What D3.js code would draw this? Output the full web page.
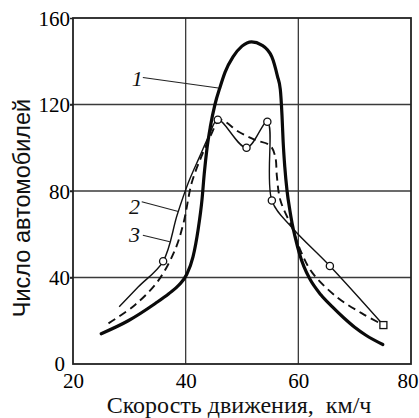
<!DOCTYPE html>
<html>
<head>
<meta charset="utf-8">
<script src="https://cdn.jsdelivr.net/npm/d3@7"></script>
<style>
  html, body { margin: 0; padding: 0; background: #fff; }
  svg { display: block; }
  .tick text { font-family: "Liberation Serif", "Times New Roman", serif; }
</style>
</head>
<body>
<script>
// ---- Data ----
const xTicks = [20, 40, 60, 80];
const yTicks = [0, 40, 80, 120, 160];

// Curve 1: thick smooth solid
const speed1 = [25, 29.8, 34.6, 37, 38.8, 40.2, 41.3, 42.2, 42.9, 43.3, 43.8, 44.4, 45.2, 46.1, 47, 48.4, 50, 51.7, 53.5, 55.3, 56.3, 56.8, 57.1, 57.3, 57.6, 58, 58.5, 58.9, 59.5, 60.2, 61, 62, 64, 66, 68, 70, 72, 75];
const count1 = [14, 20, 28, 32.5, 36.5, 41.5, 49.5, 62, 76, 88, 100, 110, 120, 128, 135, 142, 147, 149, 147.5, 142, 133, 127, 115, 103, 91, 80, 71, 65, 58, 51, 45, 39.5, 32, 26.5, 21.5, 17, 13.3, 9];

// Curve 2: thin solid through observed points
const speed2 = [28.2, 31.6, 36, 38.5, 40.5, 42.5, 44.2, 45.7, 50.8, 54.5, 55.3, 58.9, 65.6, 75.1];
const count2 = [26.5, 35.7, 47.5, 69, 84, 96, 106, 113, 100, 112, 75.6, 63, 45.3, 18];
const markSpeed2 = [36, 45.7, 50.8, 54.5, 55.3, 65.6];
const markCount2 = [47.5, 113, 100, 112, 75.6, 45.3];
const endSpeed = [75.1];
const endCount = [18];

// Curve 3: dashed
const speed3 = [26.3, 31, 35.2, 38.1, 39.6, 41.1, 42.8, 44.5, 46.1, 49.4, 52.3, 55, 55.9, 56.2, 56.8, 58.9, 60.3, 62.4, 66.8, 71.3, 75.1];
const count3 = [18.8, 27.3, 38.8, 52.7, 65, 84, 96, 106, 112.8, 107.4, 103.6, 101, 95.9, 86.6, 75.8, 63, 53, 42.5, 31, 23.4, 18];

// Curve labels with leader lines (data units)
const curveLabels = ["1", "2", "3"];
const labelSpeed = [31.4, 30.9, 30.9];
const labelCount = [132, 73, 60];
const leadFromSpeed = [32.4, 32.2, 32.4];
const leadFromCount = [132.5, 75, 59.5];
const leadToSpeed = [45.8, 38.7, 37.2];
const leadToCount = [127.6, 70.5, 56.5];

const xTitle = "Скорость движения,  км/ч";
const yTitle = "Число автомобилей";

// ---- Layout ----
const W = 419, H = 418;
const L = 73, R = 411, T = 18, B = 364;

const svg = d3.select("body").append("svg").attr("width", W).attr("height", H);

const x = d3.scaleLinear().domain([20, 80]).range([L, R]);
const y = d3.scaleLinear().domain([0, 160]).range([B, T]);

// Grid lines
const grid = svg.append("g");
grid.selectAll("line.vx").data(xTicks.slice(1, -1)).join("line")
  .attr("x1", d => x(d)).attr("x2", d => x(d)).attr("y1", T).attr("y2", B)
  .attr("stroke", "#3a3a3a").attr("stroke-width", 1.3);
grid.selectAll("line.hy").data(yTicks.slice(1, -1)).join("line")
  .attr("x1", L - 3).attr("x2", R).attr("y1", d => y(d)).attr("y2", d => y(d))
  .attr("stroke", "#3a3a3a").attr("stroke-width", 1.3);

// Frame
svg.append("rect").attr("x", L).attr("y", T).attr("width", R - L).attr("height", B - T)
  .attr("fill", "none").attr("stroke", "#222").attr("stroke-width", 1.8);

// Axes (labels)
const yAxis = d3.axisLeft(y).tickValues(yTicks).tickSize(3).tickPadding(0).tickFormat(d3.format("d"));
const gy = svg.append("g").attr("transform", `translate(${L},0)`).call(yAxis);
gy.select(".domain").remove();
gy.selectAll(".tick line").attr("stroke", "#222").attr("stroke-width", 1.5);
gy.selectAll(".tick text").attr("font-size", 21).attr("fill", "#000")
  .attr("dx", d => d === 0 ? -5 : 0).attr("dy", d => d === 0 ? "0.3em" : "0.34em");
gy.selectAll(".tick").filter(d => d === 0).select("line").remove();

const xAxis = d3.axisBottom(x).tickValues(xTicks).tickSize(0).tickPadding(9).tickFormat(d3.format("d"));
const gx = svg.append("g").attr("transform", `translate(0,${B})`).call(xAxis);
gx.select(".domain").remove();
gx.selectAll(".tick text").attr("font-size", 21).attr("fill", "#000")
  .attr("text-anchor", d => d === 80 ? "end" : "middle")
  .attr("dx", d => d === 80 ? 7 : 0);

// Curves
const pts = (xs, ys) => xs.map((v, i) => [v, ys[i]]);
const lineMono = d3.line().x(d => x(d[0])).y(d => y(d[1])).curve(d3.curveMonotoneX);
const lineSmooth = d3.line().x(d => x(d[0])).y(d => y(d[1])).curve(d3.curveCatmullRom.alpha(0.5));

svg.append("path").attr("d", lineSmooth(pts(speed3, count3)))
  .attr("fill", "none").attr("stroke", "#111").attr("stroke-width", 1.9)
  .attr("stroke-dasharray", "8,5");

svg.append("path").attr("d", lineSmooth(pts(speed2, count2)))
  .attr("fill", "none").attr("stroke", "#111").attr("stroke-width", 1.4);

svg.append("path").attr("d", lineMono(pts(speed1, count1)))
  .attr("fill", "none").attr("stroke", "#0a0a0a").attr("stroke-width", 3.2)
  .attr("stroke-linecap", "round");

// Markers
svg.selectAll("circle.m").data(pts(markSpeed2, markCount2)).join("circle")
  .attr("cx", d => x(d[0])).attr("cy", d => y(d[1])).attr("r", 3.6)
  .attr("fill", "#fff").attr("stroke", "#111").attr("stroke-width", 1.3);
svg.selectAll("rect.m").data(pts(endSpeed, endCount)).join("rect")
  .attr("x", d => x(d[0]) - 3.5).attr("y", d => y(d[1]) - 3.5).attr("width", 7).attr("height", 7)
  .attr("fill", "#fff").attr("stroke", "#111").attr("stroke-width", 1.3);

// Curve labels + leaders
curveLabels.forEach((t, i) => {
  svg.append("line")
    .attr("x1", x(leadFromSpeed[i])).attr("y1", y(leadFromCount[i]))
    .attr("x2", x(leadToSpeed[i])).attr("y2", y(leadToCount[i]))
    .attr("stroke", "#222").attr("stroke-width", 1.1);
  svg.append("text").text(t)
    .attr("x", x(labelSpeed[i])).attr("y", y(labelCount[i]))
    .attr("text-anchor", "middle").attr("dy", "0.35em")
    .attr("font-family", "Liberation Serif, serif").attr("font-style", "italic")
    .attr("font-size", 22).attr("fill", "#111");
});

// Axis titles
svg.append("text").text(xTitle)
  .attr("x", 239).attr("y", 413).attr("text-anchor", "middle")
  .style("white-space", "pre")
  .attr("font-family", "Liberation Serif, serif").attr("font-size", 24).attr("fill", "#111");

svg.append("text").text(yTitle)
  .attr("transform", "translate(30,208) rotate(-90)").attr("text-anchor", "middle")
  .attr("font-family", "Liberation Sans, Arial, sans-serif").attr("font-size", 23.5).attr("fill", "#111");
</script>
</body>
</html>
